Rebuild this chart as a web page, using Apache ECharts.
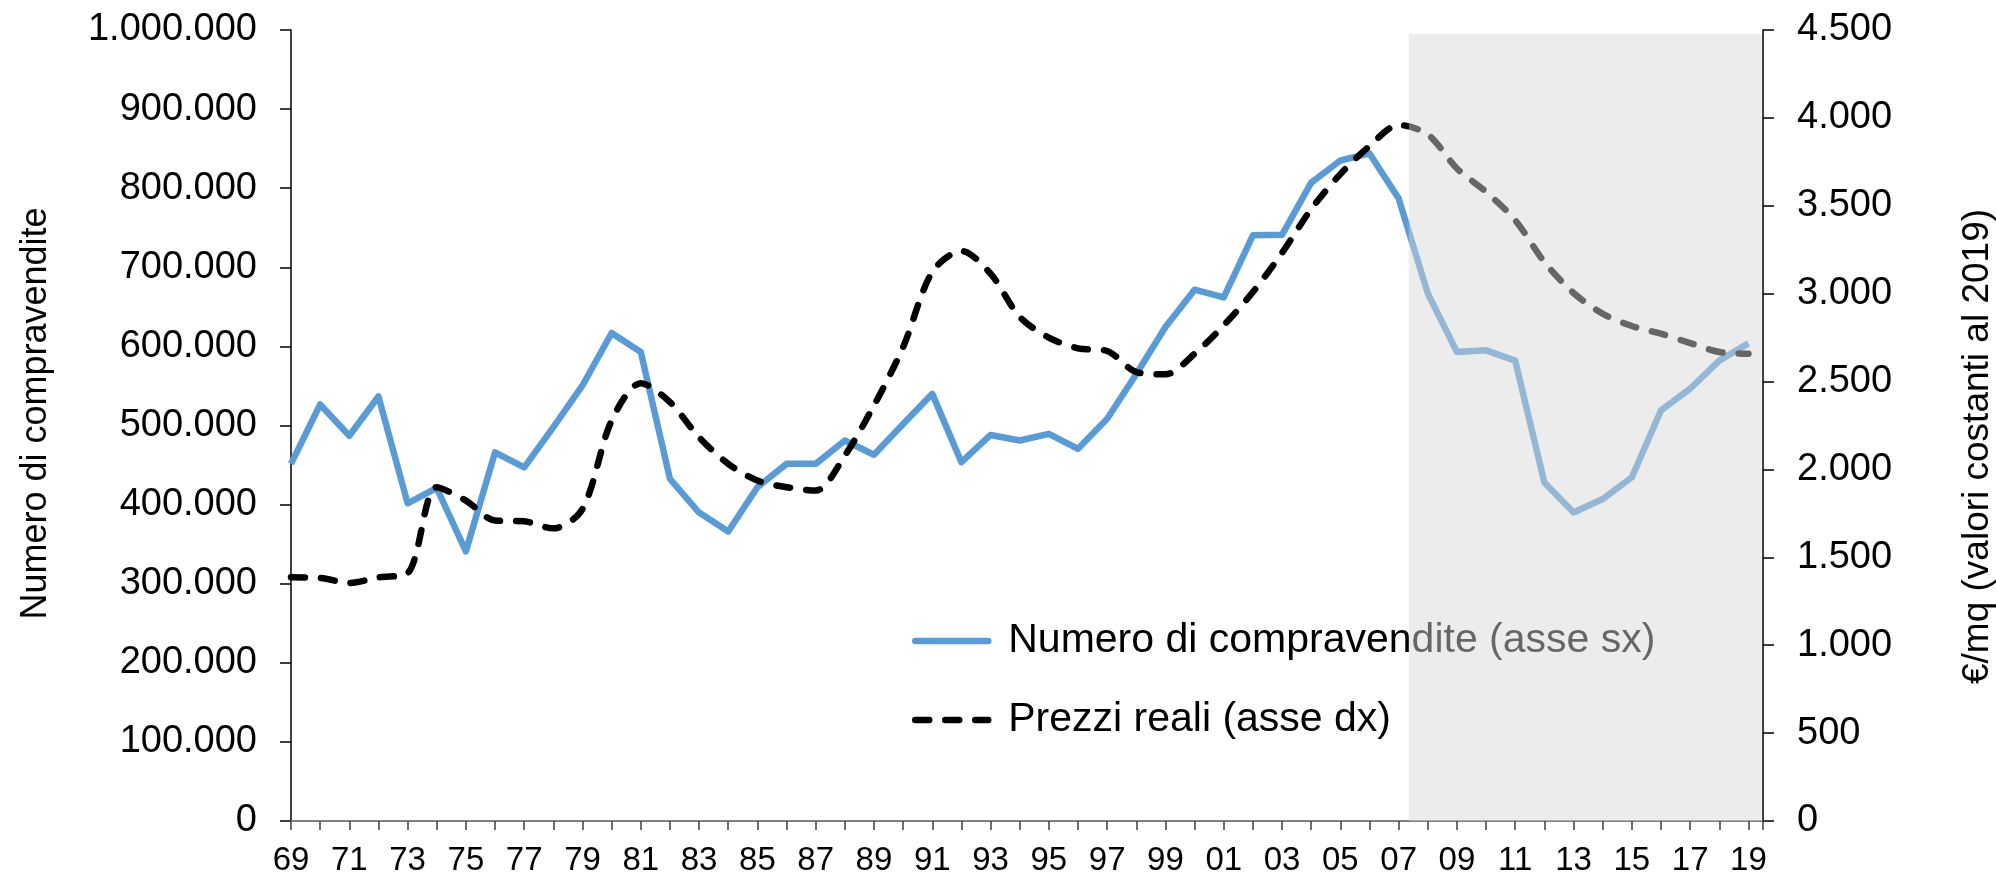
<!DOCTYPE html>
<html>
<head>
<meta charset="utf-8">
<script src="https://cdn.jsdelivr.net/npm/echarts@6/dist/echarts.min.js"></script>
<style>
  html, body { margin: 0; padding: 0; background: #fff; }
  #chart { width: 1996px; height: 872px; }
</style>
</head>
<body>
<div id="chart"></div>
<script>
// anni 1969-2019
const anni = [
  1969, 1970, 1971, 1972, 1973, 1974, 1975, 1976, 1977, 1978,
  1979, 1980, 1981, 1982, 1983, 1984, 1985, 1986, 1987, 1988,
  1989, 1990, 1991, 1992, 1993, 1994, 1995, 1996, 1997, 1998,
  1999, 2000, 2001, 2002, 2003, 2004, 2005, 2006, 2007, 2008,
  2009, 2010, 2011, 2012, 2013, 2014, 2015, 2016, 2017, 2018, 2019
]

// numero di compravendite (asse sx)
const compravendite = [
  451500, 526600, 487000, 536700, 401700, 421000, 341000, 466000, 447000, 498000,
  550600, 617000, 593000, 432500, 390000, 366000, 422000, 451500, 451500, 481000,
  463000, 502000, 540000, 453600, 488000, 481000, 489500, 470500, 508500, 565000,
  624500, 671700, 662000, 740500, 741000, 807000, 835000, 844000, 787000, 667000,
  593000, 595000, 582000, 428000, 390000, 407000, 434600, 519000, 546500, 582000, 604000
]

// prezzi reali €/mq, valori costanti 2019 (asse dx)
const prezziReali = [
  1386, 1383, 1354, 1386, 1409, 1899, 1823, 1709, 1705, 1665,
  1775, 2278, 2491, 2383, 2183, 2032, 1937, 1899, 1880, 2079,
  2364, 2696, 3124, 3243, 3114, 2868, 2750, 2689, 2674, 2554,
  2541, 2658, 2820, 3009, 3232, 3481, 3680, 3840, 3960, 3906,
  3712, 3579, 3418, 3180, 3004, 2886, 2816, 2772, 2719, 2668, 2658
]

// periodo evidenziato in grigio: [inizio, fine, altezza su asse sx]
const periodoGrigio = [2007.35, 2019.45, 995000]

const nomeSx = 'Numero di compravendite (asse sx)'
const nomeDx = 'Prezzi reali (asse dx)'

const FONT = '"Liberation Sans", Arial, sans-serif'

// 1000000 -> 1.000.000
const fmtMigliaia = v => String(v).replace(/\B(?=(\d{3})+(?!\d))/g, '.')

const chart = echarts.init(document.getElementById('chart'))

chart.setOption({
  animation: false,
  backgroundColor: '#fff',
  textStyle: { fontFamily: FONT, color: '#000' },
  grid: { left: 291, right: 233, top: 30, bottom: 51, outerBoundsMode: 'none', containLabel: false },
  legend: {
    data: [nomeSx, nomeDx],
    orient: 'vertical',
    left: 907,
    top: 612,
    itemWidth: 73,
    itemHeight: 14,
    itemGap: 31,
    itemStyle: { opacity: 0 },
    lineStyle: { width: 6.5, cap: 'round' },
    textStyle: { fontSize: 41, lineHeight: 48, color: '#000', fontFamily: FONT, padding: [0, 0, 0, 15] }
  },
  xAxis: {
    type: 'value',
    min: 1969,
    max: 2019.5,
    interval: 1,
    axisLine: { lineStyle: { color: '#808080', width: 2 } },
    axisTick: { show: true, length: 9, lineStyle: { color: '#404040', width: 1.5 } },
    axisLabel: {
      fontSize: 33,
      color: '#000',
      margin: 23,
      formatter: v => (Number.isInteger(v) && v % 2 === 1) ? String(v).slice(2) : ''
    },
    splitLine: { show: false }
  },
  yAxis: [
    {
      type: 'value',
      position: 'left',
      min: 0,
      max: 1000000,
      interval: 100000,
      name: 'Numero di compravendite',
      nameLocation: 'middle',
      nameRotate: 90,
      nameGap: 237,
      nameTextStyle: { fontSize: 36, color: '#000', padding: [0, 0, 0, 24] },
      axisLine: { show: true, lineStyle: { color: '#000', width: 1.5 } },
      axisTick: { show: true, length: 11, lineStyle: { color: '#000', width: 1.5 } },
      axisLabel: { fontSize: 38, color: '#000', margin: 34, formatter: fmtMigliaia },
      splitLine: { show: false }
    },
    {
      type: 'value',
      position: 'right',
      min: 0,
      max: 4500,
      interval: 500,
      name: '€/mq (valori costanti al 2019)',
      nameLocation: 'middle',
      nameRotate: 90,
      nameGap: 196,
      nameTextStyle: { fontSize: 37, color: '#000', padding: [0, 42, 0, 0] },
      axisLine: { show: true, lineStyle: { color: '#000', width: 1.5 } },
      axisTick: { show: true, length: 11, lineStyle: { color: '#000', width: 1.5 } },
      axisLabel: { fontSize: 38, color: '#000', margin: 34, formatter: fmtMigliaia },
      splitLine: { show: false }
    }
  ],
  series: [
    {
      name: nomeSx,
      type: 'line',
      yAxisIndex: 0,
      data: anni.map((a, i) => [a, compravendite[i]]),
      symbol: 'none',
      z: 3,
      itemStyle: { color: '#5b9bd5' },
      lineStyle: { color: '#5b9bd5', width: 6.5, join: 'round' }
    },
    {
      name: nomeDx,
      type: 'line',
      yAxisIndex: 1,
      data: anni.map((a, i) => [a, prezziReali[i]]),
      symbol: 'none',
      smooth: 0.3,
      z: 4,
      itemStyle: { color: '#000' },
      lineStyle: { color: '#000', width: 6.5, type: [14, 16], cap: 'round', join: 'round' }
    },
    {
      // velo grigio semitrasparente sopra linee e legenda
      name: 'periodo',
      type: 'custom',
      yAxisIndex: 0,
      silent: true,
      z: 10,
      data: [periodoGrigio],
      encode: { x: [0, 1], y: 2 },
      renderItem: (params, api) => {
        const p0 = api.coord([api.value(0), api.value(2)])
        const p1 = api.coord([api.value(1), 0])
        return {
          type: 'rect',
          shape: { x: p0[0], y: p0[1], width: p1[0] - p0[0], height: p1[1] - p0[1] },
          style: { fill: 'rgba(215, 215, 215, 0.475)' }
        }
      }
    }
  ]
})
</script>
</body>
</html>
